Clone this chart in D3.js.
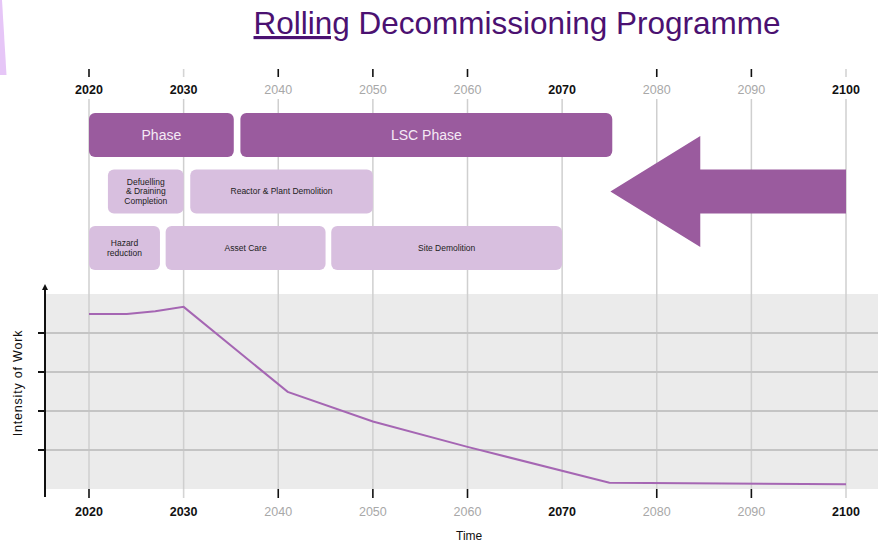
<!DOCTYPE html>
<html><head><meta charset="utf-8">
<script src="https://cdn.jsdelivr.net/npm/d3@7"></script>
<style>body{margin:0;background:#fff}svg{display:block}</style>
</head><body>
<svg id="c" width="878" height="542"></svg>
<script>
// ---- data ----
const years = [2020,2030,2040,2050,2060,2070,2080,2090,2100];
const tickLabels = ["2020","2030","2040","2050","2060","2070","2080","2090","2100"];
const boldYears = [2020,2030,2070,2100];
const darkTickYears = [2020,2040,2050,2060,2080,2090];
const faintTickYears = [2030,2100];

const lineYears = [2020,2024,2027,2030,2041,2050,2060,2075,2100];
const lineValues = [4.49,4.49,4.56,4.67,2.49,1.73,1.08,0.16,0.12];
const yTicks = [1,2,3,4];

const phaseRows  = [0,0,1,1,2,2,2];
const phaseStart = [2020,2036,2022,2030.7,2020,2028.1,2045.6];
const phaseEnd   = [2035.3,2075.3,2030,2050,2027.5,2045,2070];
const phaseDark  = [true,true,false,false,false,false,false];
const phaseText  = [["Phase"],["LSC Phase"],["Defuelling","& Draining","Completion"],["Reactor & Plant Demolition"],["Hazard","reduction"],["Asset Care"],["Site Demolition"]];

const arrowYears = {tip:2075.1, head:2084.6, tail:2100};

// ---- drawing ----
const svg = d3.select("#c");
const DARK = "#9a5b9e", LIGHT = "#d8bfdf";
const x = d3.scaleLinear().domain([2020,2100]).range([89,846]);
const y = d3.scaleLinear().domain([0,5]).range([489,294]);
const row = d3.scaleBand().domain([0,1,2]).range([113,270]).paddingInner(0.22);

// left decoration
svg.append("path").attr("d","M0,0L2,0L6.5,75L0,75Z").attr("fill","#e6c6f7");

// title
const title = svg.append("text").attr("x",517).attr("y",34).attr("text-anchor","middle")
  .attr("font-family","Liberation Sans, Arial, sans-serif").attr("font-size",31.5)
  .attr("fill","#4b1171");
title.append("tspan").attr("text-decoration","underline").text("Rolling");
title.append("tspan").text(" Decommissioning Programme");

// panel
svg.append("rect").attr("x",45).attr("y",y(5)).attr("width",878-45).attr("height",y(0)-y(5)).attr("fill","#ebebeb");

// vertical gridlines
svg.selectAll(".vg").data(years).join("line")
  .attr("x1",d=>x(d)).attr("x2",d=>x(d)).attr("y1",99).attr("y2",y(0))
  .attr("stroke","#cfcfcf").attr("stroke-width",1.5);

// horizontal gridlines
svg.selectAll(".hg").data(yTicks).join("line")
  .attr("x1",45).attr("x2",878).attr("y1",d=>y(d)).attr("y2",d=>y(d))
  .attr("stroke","#c4c4c4").attr("stroke-width",2);

// tick labels top & bottom
const font = "Liberation Sans, Arial, sans-serif";
[94,516].forEach(ly=>{
  svg.selectAll(null).data(years).join("text")
    .attr("x",d=>x(d)).attr("y",ly).attr("text-anchor","middle")
    .attr("font-family",font).attr("font-size",12.5)
    .attr("font-weight",d=>boldYears.includes(d)?"bold":"normal")
    .attr("fill",d=>boldYears.includes(d)?"#111":"#a8a8a8")
    .text((d,i)=>tickLabels[i]);
});
// tick marks top & bottom
[[69,77],[489,498]].forEach(([a,b])=>{
  svg.selectAll(null).data(years.filter(d=>darkTickYears.includes(d)||faintTickYears.includes(d))).join("line")
    .attr("x1",d=>x(d)).attr("x2",d=>x(d)).attr("y1",a).attr("y2",b)
    .attr("stroke",d=>darkTickYears.includes(d)?"#111":"#d4d4d4").attr("stroke-width",1.6);
});

// y axis
svg.append("line").attr("x1",45).attr("x2",45).attr("y1",287).attr("y2",497).attr("stroke","#111").attr("stroke-width",2);
svg.append("path").attr("d","M45,284L42,290L48,290Z").attr("fill","#111");
svg.selectAll(".yt").data(yTicks).join("line")
  .attr("x1",38).attr("x2",45).attr("y1",d=>y(d)).attr("y2",d=>y(d)).attr("stroke","#111").attr("stroke-width",2);

// axis titles
svg.append("text").attr("transform","translate(22,383) rotate(-90)").attr("text-anchor","middle")
  .attr("font-family",font).attr("font-size",12.5).attr("letter-spacing",0.8).attr("fill","#111").text("Intensity of Work");
svg.append("text").attr("x",456).attr("y",540).attr("font-family",font).attr("font-size",12).attr("fill","#111").text("Time");

// line
svg.append("path").datum(lineYears.map((d,i)=>[d,lineValues[i]]))
  .attr("d",d3.line().x(d=>x(d[0])).y(d=>y(d[1])))
  .attr("fill","none").attr("stroke","#a566b3").attr("stroke-width",2);

// phase boxes
const boxes = svg.selectAll(".box").data(phaseRows.map((r,i)=>({r,s:phaseStart[i],e:phaseEnd[i],dark:phaseDark[i],t:phaseText[i]}))).join("g");
boxes.append("rect")
  .attr("x",d=>x(d.s)).attr("y",d=>row(d.r)).attr("width",d=>x(d.e)-x(d.s)).attr("height",row.bandwidth())
  .attr("rx",6).attr("fill",d=>d.dark?DARK:LIGHT);
boxes.each(function(d){
  const g = d3.select(this);
  const fs = d.dark?14:8.5;
  const lh = fs*1.15;
  const cy = row(d.r)+row.bandwidth()/2;
  d.t.forEach((line,j)=>{
    g.append("text").attr("x",(x(d.s)+x(d.e))/2)
      .attr("y",cy+(j-(d.t.length-1)/2)*lh).attr("dy","0.35em")
      .attr("text-anchor","middle").attr("font-family",font).attr("font-size",fs)
      .attr("fill",d.dark?"#f4eaf5":"#222").text(line);
  });
});

// arrow
const cy1 = row(1)+row.bandwidth()/2, sh = row.bandwidth()/2, hh = row.bandwidth()*1.26;
svg.append("path").attr("d",d3.line()([
  [x(arrowYears.tip),cy1],[x(arrowYears.head),cy1-hh],[x(arrowYears.head),cy1-sh],
  [x(arrowYears.tail),cy1-sh],[x(arrowYears.tail),cy1+sh],[x(arrowYears.head),cy1+sh],
  [x(arrowYears.head),cy1+hh]])+"Z").attr("fill",DARK);
</script>
</body></html>
